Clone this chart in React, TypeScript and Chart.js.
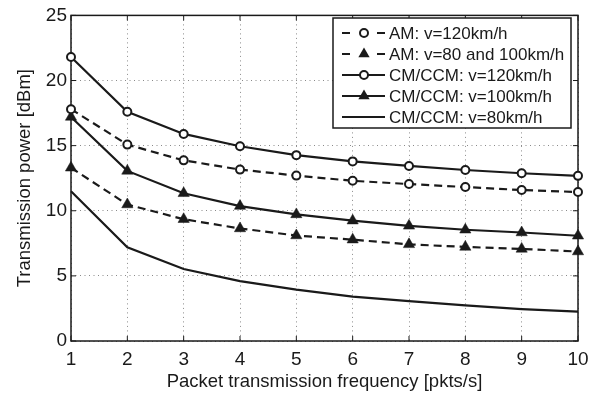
import React, { useEffect, useRef } from "react";
import { Chart, registerables } from "chart.js";

Chart.register(...registerables);

const freq = [1, 2, 3, 4, 5, 6, 7, 8, 9, 10];
const amV120 = [17.8, 15.08, 13.87, 13.16, 12.7, 12.3, 12.05, 11.82, 11.59, 11.44];
const amV80and100 = [13.3, 10.48, 9.35, 8.64, 8.1, 7.78, 7.42, 7.22, 7.07, 6.87];
const cmV120 = [21.8, 17.6, 15.9, 14.95, 14.27, 13.79, 13.44, 13.13, 12.88, 12.68];
const cmV100 = [17.2, 13.06, 11.34, 10.36, 9.72, 9.24, 8.84, 8.54, 8.33, 8.08];
const cmV80 = [11.5, 7.2, 5.53, 4.6, 3.95, 3.41, 3.06, 2.73, 2.45, 2.25];

const seriesLabels = [
  "AM: v=120km/h",
  "AM: v=80 and 100km/h",
  "CM/CCM: v=120km/h",
  "CM/CCM: v=100km/h",
  "CM/CCM: v=80km/h",
];
const xTitle = "Packet transmission frequency [pkts/s]";
const yTitle = "Transmission power [dBm]";

const FONT = "'Liberation Sans', Arial, Helvetica, sans-serif";
const DASH = [8, 5];
const INK = "#1a1a1a";

type Kind = { dashed: boolean; marker: "circle" | "triangle" | "none" };
const kinds: Kind[] = [
  { dashed: true, marker: "circle" },
  { dashed: true, marker: "triangle" },
  { dashed: false, marker: "circle" },
  { dashed: false, marker: "triangle" },
  { dashed: false, marker: "none" },
];

function drawMarker(ctx: CanvasRenderingContext2D, kind: Kind, x: number, y: number) {
  ctx.save();
  ctx.setLineDash([]);
  if (kind.marker === "circle") {
    ctx.beginPath();
    ctx.arc(x, y, 4, 0, Math.PI * 2);
    ctx.fillStyle = "#fff";
    ctx.fill();
    ctx.lineWidth = 2;
    ctx.strokeStyle = INK;
    ctx.stroke();
  } else if (kind.marker === "triangle") {
    const r = 6.5;
    ctx.beginPath();
    ctx.moveTo(x, y - r);
    ctx.lineTo(x + r * 0.866, y + r * 0.5);
    ctx.lineTo(x - r * 0.866, y + r * 0.5);
    ctx.closePath();
    ctx.fillStyle = INK;
    ctx.fill();
  }
  ctx.restore();
}

const framePlugin = {
  id: "frame",
  beforeDatasetsDraw(chart: any) {
    const { ctx, chartArea: a, scales } = chart;
    ctx.save();
    ctx.strokeStyle = INK;
    ctx.lineWidth = 1.5;
    ctx.setLineDash([]);
    ctx.strokeRect(a.left, a.top, a.right - a.left, a.bottom - a.top);
    const L = 5;
    ctx.lineWidth = 1;
    ctx.beginPath();
    scales.x.ticks.forEach((t: any) => {
      const px = scales.x.getPixelForValue(t.value);
      ctx.moveTo(px, a.bottom);
      ctx.lineTo(px, a.bottom - L);
      ctx.moveTo(px, a.top);
      ctx.lineTo(px, a.top + L);
    });
    scales.y.ticks.forEach((t: any) => {
      const py = scales.y.getPixelForValue(t.value);
      ctx.moveTo(a.left, py);
      ctx.lineTo(a.left + L, py);
      ctx.moveTo(a.right, py);
      ctx.lineTo(a.right - L, py);
    });
    ctx.stroke();
    ctx.restore();
  },
  afterDatasetsDraw(chart: any) {
    const { ctx } = chart;
    const bx = 333, by = 18, bw = 238, bh = 110;
    ctx.save();
    ctx.fillStyle = "#fff";
    ctx.fillRect(bx, by, bw, bh);
    ctx.strokeStyle = INK;
    ctx.lineWidth = 1.5;
    ctx.strokeRect(bx, by, bw, bh);
    chart.data.datasets.forEach((ds: any, i: number) => {
      const k = kinds[i];
      const y = 33 + i * 21;
      ctx.strokeStyle = INK;
      ctx.lineWidth = 2.2;
      ctx.setLineDash([]);
      ctx.beginPath();
      if (k.dashed) {
        ctx.moveTo(342, y);
        ctx.lineTo(350, y);
        ctx.moveTo(377, y);
        ctx.lineTo(385, y);
      } else {
        ctx.moveTo(342, y);
        ctx.lineTo(385, y);
      }
      ctx.stroke();
      drawMarker(ctx, k, 364, y);
      ctx.fillStyle = INK;
      ctx.font = `17px ${FONT}`;
      ctx.textBaseline = "middle";
      ctx.textAlign = "left";
      ctx.fillText(ds.label, 389, y + 1);
    });
    ctx.restore();
  },
};

export default function App() {
  const ref = useRef<HTMLCanvasElement>(null);
  useEffect(() => {
    document.body.style.margin = "0";
    const series = [amV120, amV80and100, cmV120, cmV100, cmV80];
    const datasets = series.map((vals, i) => {
      const k = kinds[i];
      return {
        label: seriesLabels[i],
        data: freq.map((f, j) => ({ x: f, y: vals[j] })),
        borderColor: INK,
        borderWidth: 2.2,
        borderDash: k.dashed ? DASH : [],
        backgroundColor: k.marker === "circle" ? "#fff" : INK,
        pointStyle: k.marker === "triangle" ? "triangle" : "circle",
        pointRadius: k.marker === "none" ? 0 : k.marker === "triangle" ? 6.5 : 4,
        pointBorderWidth: k.marker === "triangle" ? 0.5 : 2,
        pointBorderColor: INK,
        pointBackgroundColor: k.marker === "circle" ? "#fff" : INK,
        tension: 0,
        fill: false,
        clip: false as any,
      };
    });
    const chart = new Chart(ref.current!, {
      type: "line",
      data: { datasets },
      plugins: [framePlugin],
      options: {
        animation: false,
        responsive: false,
        maintainAspectRatio: false,
        layout: { padding: { top: 11, right: 35, left: 0, bottom: 0 } },
        plugins: { legend: { display: false }, tooltip: { enabled: false } },
        scales: {
          x: {
            type: "linear",
            min: 1,
            max: 10,
            ticks: {
              stepSize: 1,
              color: INK,
              font: { family: FONT, size: 19 },
              padding: 7,
              maxRotation: 0,
            },
            grid: { color: "#8a8a8a", lineWidth: 1, drawTicks: false },
            border: { display: false, dash: [1, 3.5] },
            title: {
              display: true,
              text: xTitle,
              color: INK,
              font: { family: FONT, size: 18.5 },
              padding: { top: 0, bottom: 3 },
            },
            afterFit: (s: any) => {
              s.height = 55;
            },
          },
          y: {
            type: "linear",
            min: 0,
            max: 25,
            ticks: {
              stepSize: 5,
              color: INK,
              font: { family: FONT, size: 19 },
              padding: 4,
            },
            grid: { color: "#8a8a8a", lineWidth: 1, drawTicks: false },
            border: { display: false, dash: [1, 3.5] },
            title: {
              display: true,
              text: yTitle,
              color: INK,
              font: { family: FONT, size: 18.5 },
              padding: { top: 14, bottom: 0 },
            },
            afterFit: (s: any) => {
              s.width = 71;
            },
          },
        },
      },
    } as any);
    return () => chart.destroy();
  }, []);
  return <canvas ref={ref} width={613} height={396} style={{ display: "block" }} />;
}
